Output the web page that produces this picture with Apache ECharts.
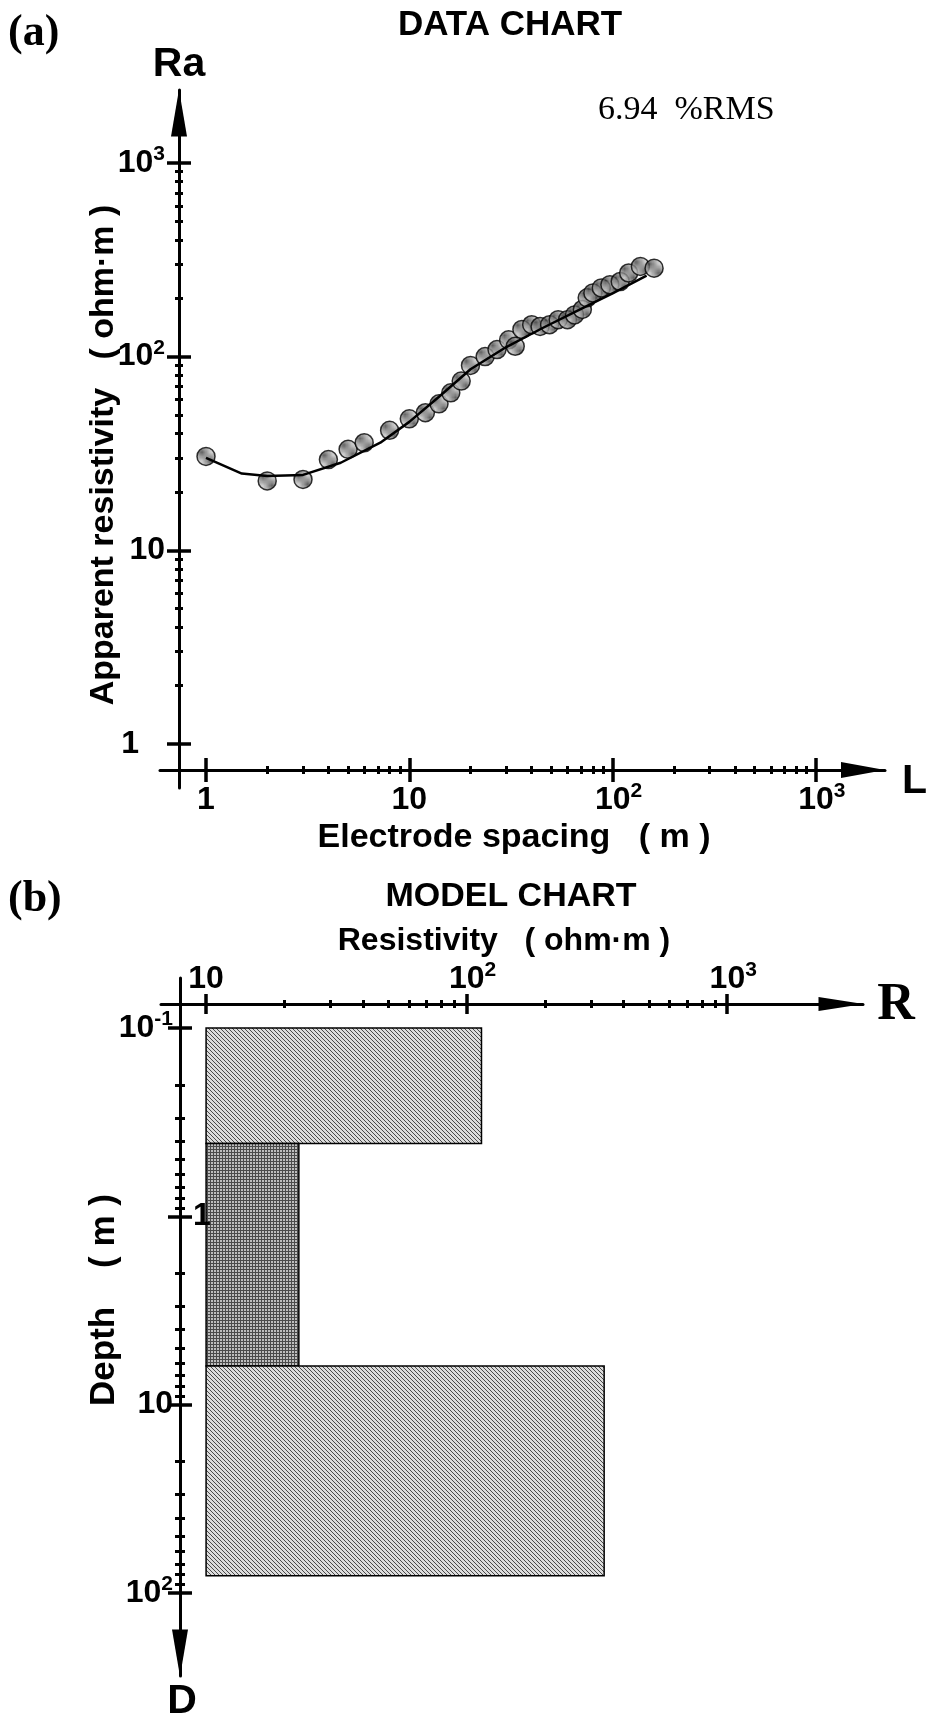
<!DOCTYPE html>
<html>
<head>
<meta charset="utf-8">
<script src="https://cdn.jsdelivr.net/npm/echarts@6/dist/echarts.min.js"></script>
<style>
  html, body { margin: 0; padding: 0; background: #fff; }
  #chart { width: 926px; height: 1721px; }
</style>
</head>
<body>
<div id="chart"></div>
<script>
// (a) data chart: measured apparent resistivity vs electrode spacing
const spacing = [1, 2, 3, 4, 5, 6, 8, 10, 12, 14, 16, 18, 20, 23.6, 27, 30.8, 33.2, 35.8, 40, 44, 49, 54, 60, 65, 71, 75, 80, 88, 97, 109, 120, 137, 160];
const apparentRes = [30.5, 22.8, 23.2, 29.4, 33.2, 35.9, 41.6, 47.7, 51.3, 57, 65, 74.7, 90, 100, 108.6, 122, 113, 138, 146, 143, 146, 155, 155, 164, 175, 201, 213, 226, 235, 244, 270, 292, 286];
// fitted model response curve
const curveSpacing = [1, 1.5, 2, 3, 4.6, 7.2, 10, 14, 20, 30, 45, 70, 100, 147];
const curveRes = [30, 24.9, 24.2, 24.5, 28.3, 35.9, 46, 62, 86, 112, 140, 176, 212, 262];
const rmsText = '6.94  %RMS';

// (b) model chart: layered earth
const layerRes = [114, 22.7, 337];
const layerTop = [0.1, 0.41, 6.24];
const layerBottom = [0.41, 6.24, 81];
const resFloor = 10;

// tick labels (powers of ten)
const dataXTicks = [1, 10, 100, 1000];
const dataYTicks = [1, 10, 100, 1000];
const modelXTicks = [10, 100, 1000];
const modelYTicks = [0.1, 1, 10, 100];

const lg = Math.log10;
const SANS = '"Liberation Sans", Arial, sans-serif';
const SERIF = '"Liberation Serif", "Times New Roman", serif';

function minorOf(ticks) {
  // 2..9 x 10^k inside every decade between labelled ticks
  const out = [];
  for (let i = 0; i < ticks.length - 1; i++) {
    for (let m = 2; m <= 9; m++) out.push(lg(m * ticks[i]));
  }
  return out;
}

function makePattern(size, bg, fg, test) {
  const c = document.createElement('canvas');
  c.width = c.height = size;
  const ctx = c.getContext('2d');
  ctx.fillStyle = bg;
  ctx.fillRect(0, 0, size, size);
  ctx.fillStyle = fg;
  for (let i = 0; i < size; i++) {
    for (let j = 0; j < size; j++) {
      if (test(i, j)) ctx.fillRect(i, j, 1, 1);
    }
  }
  return { image: c, repeat: 'repeat' };
}

const hatchLight = makePattern(4, '#dcdcdc', '#4a4a4a', (i, j) => (i - j + 8) % 4 === 0);
const hatchDark = makePattern(3, '#bdbdbd', '#4a4a4a', (i, j) => i % 3 === 0 || j % 3 === 0);
const dotFill = makePattern(3, '#c4c4c4', '#3c3c3c', (i, j) => (i + 2 * j) % 3 === 0);
const layerFill = [hatchLight, hatchDark, hatchLight];

const rich = {
  b: { fontFamily: SANS, fontWeight: 'bold', fontSize: 32, lineHeight: 38, color: '#000' },
  bp: { fontFamily: SANS, fontWeight: 'bold', fontSize: 32, lineHeight: 38, color: '#000', padding: [0, 0, 0, 12] },
  s: { fontFamily: SANS, fontWeight: 'bold', fontSize: 21, lineHeight: 21, color: '#000', verticalAlign: 'top' }
};

function powLabel(v, pad) {
  const k = Math.round(v);
  if (k === 0) return '{b|1}';
  if (k === 1) return '{b|10}';
  return '{' + (pad ? 'bp' : 'b') + '|10}{s|' + k + '}';
}

const LINE = { color: '#000', width: 3 };
const HIDE = { show: false };
const NOLINE = { show: false, onZero: false };

// pixel boxes of the two panels
const boxData = { left: 160, top: 90, width: 725, height: 698 };
const boxModel = { left: 161, top: 978, width: 702, height: 698 };

// axis ranges / positions (log10 units)
const ax0 = { min: -0.2263, max: 3.340, position: 'bottom', offset: -18 };
const ay0 = { min: -0.2272, max: 3.376, position: 'left', offset: -19 };
const ax1 = { min: 0.827, max: 3.521, position: 'top', offset: -26 };
const ay1 = { min: -1.266, max: 2.441, position: 'left', offset: -19, inverse: true };

const dx0 = dataXTicks.map(lg), dy0 = dataYTicks.map(lg);
const dx1 = modelXTicks.map(lg), dy1 = modelYTicks.map(lg);

const grids = [], xAxes = [], yAxes = [];

function addGrid(box, xa, ya) {
  const gi = grids.length;
  grids.push(Object.assign({}, box));
  xAxes.push(Object.assign({ type: 'value', gridIndex: gi, splitLine: HIDE, axisTick: HIDE, axisLabel: HIDE, axisLine: NOLINE }, xa));
  yAxes.push(Object.assign({ type: 'value', gridIndex: gi, splitLine: HIDE, axisTick: HIDE, axisLabel: HIDE, axisLine: NOLINE }, ya));
  return gi;
}
function arrowLine(size, offs, ends) {
  return { show: true, onZero: false, lineStyle: LINE, symbol: ends, symbolSize: size, symbolOffset: offs };
}
function ticks(base, values, half, width) {
  return Object.assign({}, base, {
    offset: base.offset - half,
    axisTick: { show: true, customValues: values, length: half * 2, lineStyle: { color: '#000', width: width } }
  });
}
function labels(base, values, extra) {
  return Object.assign({}, base, {
    z: 10,
    axisLabel: Object.assign({ show: true, customValues: values, rich: rich, formatter: v => powLabel(v, false) }, extra)
  });
}

// main grids (0 = data chart, 1 = model chart)
addGrid(boxData,
  Object.assign({}, ax0, {
    axisLine: arrowLine([16, 44], [0, -22], ['none', 'triangle']),
    axisLabel: { show: true, customValues: dx0, margin: 11, rich: rich, formatter: v => powLabel(v, true) }
  }),
  Object.assign({}, ay0, {
    axisLine: arrowLine([16, 47], [0, -23], ['none', 'triangle']),
    axisLabel: { show: true, customValues: dy0.slice(1), margin: 14, rich: rich, formatter: v => powLabel(v, false) }
  }));
addGrid(boxModel,
  Object.assign({}, ax1, {
    axisLine: arrowLine([14, 45], [0, -22], ['none', 'triangle']),
    axisLabel: { show: true, customValues: dx1, margin: 6, rich: rich, formatter: v => powLabel(v, true) }
  }),
  Object.assign({}, ay1, {
    axisLine: arrowLine([16, 47], [23, 0], ['triangle', 'none']),
    axisLabel: { show: true, customValues: [dy1[0], dy1[2], dy1[3]], margin: 7, rich: rich, formatter: v => powLabel(v, false) }
  }));

// overlay grids: centred major ticks, centred minor ticks, odd labels
addGrid(boxData, ticks(ax0, dx0, 12, 3.5), ticks(ay0, dy0, 12, 3.5));
addGrid(boxData, ticks(ax0, minorOf(dataXTicks), 4, 3), ticks(ay0, minorOf(dataYTicks), 4, 3));
addGrid(boxData, Object.assign({}, ax0), labels(ay0, [dy0[0]], { margin: 40 }));
addGrid(boxModel, ticks(ax1, dx1, 10, 3.5), ticks(ay1, dy1, 12, 3.5));
addGrid(boxModel, ticks(ax1, minorOf(modelXTicks), 4, 3), ticks(ay1, minorOf(modelYTicks), 5, 3));
addGrid(boxModel, Object.assign({}, ax1), labels(ay1, [dy1[1]], { inside: true, margin: 13, align: 'left' }));

function txt(text, x, y, font, align, extra) {
  return Object.assign({
    type: 'text', x: x, y: y, silent: true,
    style: { text: text, font: font, fill: '#000', textAlign: align || 'center', textVerticalAlign: 'middle' }
  }, extra || {});
}

const option = {
  backgroundColor: '#fff',
  animation: false,
  grid: grids,
  xAxis: xAxes,
  yAxis: yAxes,
  graphic: [
    txt('(a)', 8, 34, 'bold 44px ' + SERIF, 'left'),
    txt('DATA CHART', 510, 25, 'bold 35px ' + SANS),
    txt('Ra', 179, 65, 'bold 41px ' + SANS),
    txt(rmsText, 598, 110, '34px ' + SERIF, 'left'),
    txt('L', 902, 782, 'bold 41px ' + SANS, 'left'),
    txt('Electrode spacing   ( m )', 514, 838, 'bold 34px ' + SANS),
    txt('Apparent resistivity   ( ohm·m )', 104, 455, 'bold 34px ' + SANS, 'center', { rotation: Math.PI / 2 }),
    txt('(b)', 8, 900, 'bold 44px ' + SERIF, 'left'),
    txt('MODEL CHART', 511, 897, 'bold 34px ' + SANS),
    txt('Resistivity   ( ohm·m )', 504, 941, 'bold 32px ' + SANS),
    txt('R', 896, 1006, 'bold 52px ' + SERIF),
    txt('Depth    ( m )', 104, 1300, 'bold 35px ' + SANS, 'center', { rotation: Math.PI / 2 }),
    txt('D', 182, 1702, 'bold 41px ' + SANS)
  ],
  series: [
    {
      type: 'scatter',
      xAxisIndex: 0, yAxisIndex: 0,
      symbolSize: 18,
      itemStyle: { color: dotFill, borderColor: '#000', borderWidth: 1.5 },
      data: spacing.map((s, i) => [lg(s), lg(apparentRes[i])]),
      z: 2
    },
    {
      type: 'line',
      xAxisIndex: 0, yAxisIndex: 0,
      showSymbol: false,
      lineStyle: { color: '#000', width: 2.5 },
      data: curveSpacing.map((s, i) => [lg(s), lg(curveRes[i])]),
      z: 3
    },
    {
      type: 'custom',
      xAxisIndex: 1, yAxisIndex: 1,
      z: 1,
      renderItem: function (params, api) {
        const p0 = api.coord([api.value(0), api.value(1)]);
        const p1 = api.coord([api.value(2), api.value(3)]);
        return {
          type: 'rect',
          shape: { x: p0[0], y: p0[1], width: p1[0] - p0[0], height: p1[1] - p0[1] },
          style: { fill: layerFill[params.dataIndex], stroke: '#000', lineWidth: 1.5 }
        };
      },
      data: layerRes.map((r, i) => [lg(resFloor), lg(layerTop[i]), lg(r), lg(layerBottom[i])])
    }
  ]
};

const chart = echarts.init(document.getElementById('chart'), null, { renderer: 'canvas' });
chart.setOption(option);
</script>
</body>
</html>
